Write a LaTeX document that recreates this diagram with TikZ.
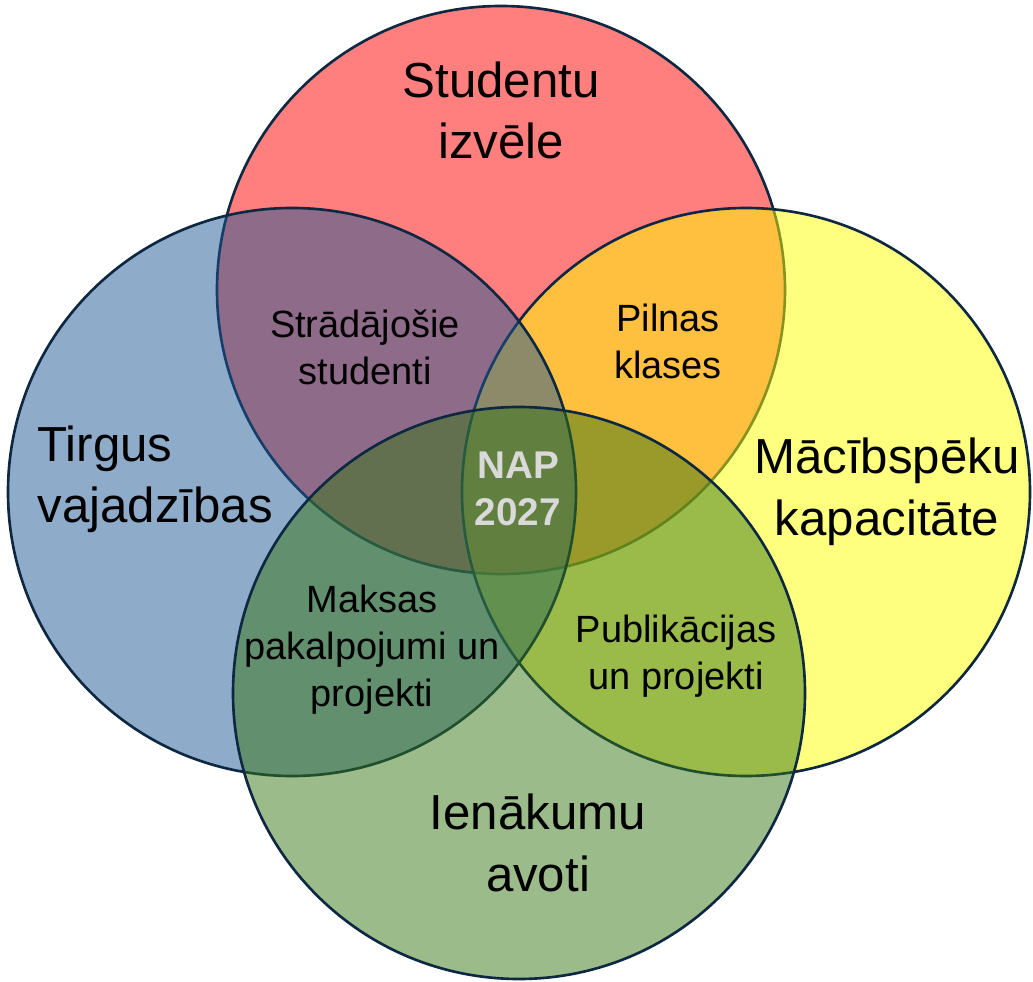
\documentclass[tikz,border=0pt]{standalone}
\usepackage{fontspec}
\setmainfont{Liberation Sans}

\definecolor{studred}{HTML}{FF0000}
\definecolor{macyellow}{HTML}{FFFF00}
\definecolor{tirgblue}{HTML}{1D5793}
\definecolor{ienagreen}{HTML}{377717}
\definecolor{rimnavy}{HTML}{0E2841}
\definecolor{napgray}{HTML}{D9D9D9}

\begin{document}
\begin{tikzpicture}[x=1cm,y=1cm,
    every node/.style={align=center, inner sep=0pt, text=black},
    bigtext/.style={font=\fontsize{14}{17.5}\selectfont},
    smalltext/.style={font=\fontsize{10.8}{13.4}\selectfont},
    ring/.style={draw=rimnavy, line width=0.75pt, fill opacity=.5}]
    \useasboundingbox (0,0) rectangle (10.33,9.81);
    % circles, back to front
    \filldraw[ring, fill=studred] (5.01,6.91) circle (2.84);
    \filldraw[ring, fill=macyellow] (7.46,4.89) circle (2.84);
    \filldraw[ring, fill=tirgblue] (2.92,4.89) circle (2.84);
    \filldraw[ring, fill=ienagreen] (5.19,2.88) circle (2.86);
    % outer labels
    \node[bigtext] (studizv) at (5.01,8.705) {Studentu\\izvēle};
    \node[bigtext, anchor=west, align=left] (tirgvaj) at (0.37,5.015) {Tirgus\\vajadzības};
    \node[bigtext] (macikap) at (8.87,4.89) {Mācībspēku\\kapacitāte};
    \node[bigtext] (ienavo) at (5.38,1.38) {Ienākumu\\avoti};
    % overlaps
    \node[smalltext] (stradstud) at (3.65,6.34) {Strādājošie\\studenti};
    \node[smalltext] (pilnkl) at (6.68,6.395) {Pilnas\\klases};
    \node[smalltext] (maksproj) at (3.72,3.31) {Maksas\\pakalpojumi un\\projekti};
    \node[smalltext] (publproj) at (6.76,3.245) {Publikācijas\\un projekti};
    \node[font=\fontsize{11}{13.4}\selectfont\bfseries, text=napgray] (nap) at (5.18,4.925) {NAP\\2027};
\end{tikzpicture}
\end{document}
